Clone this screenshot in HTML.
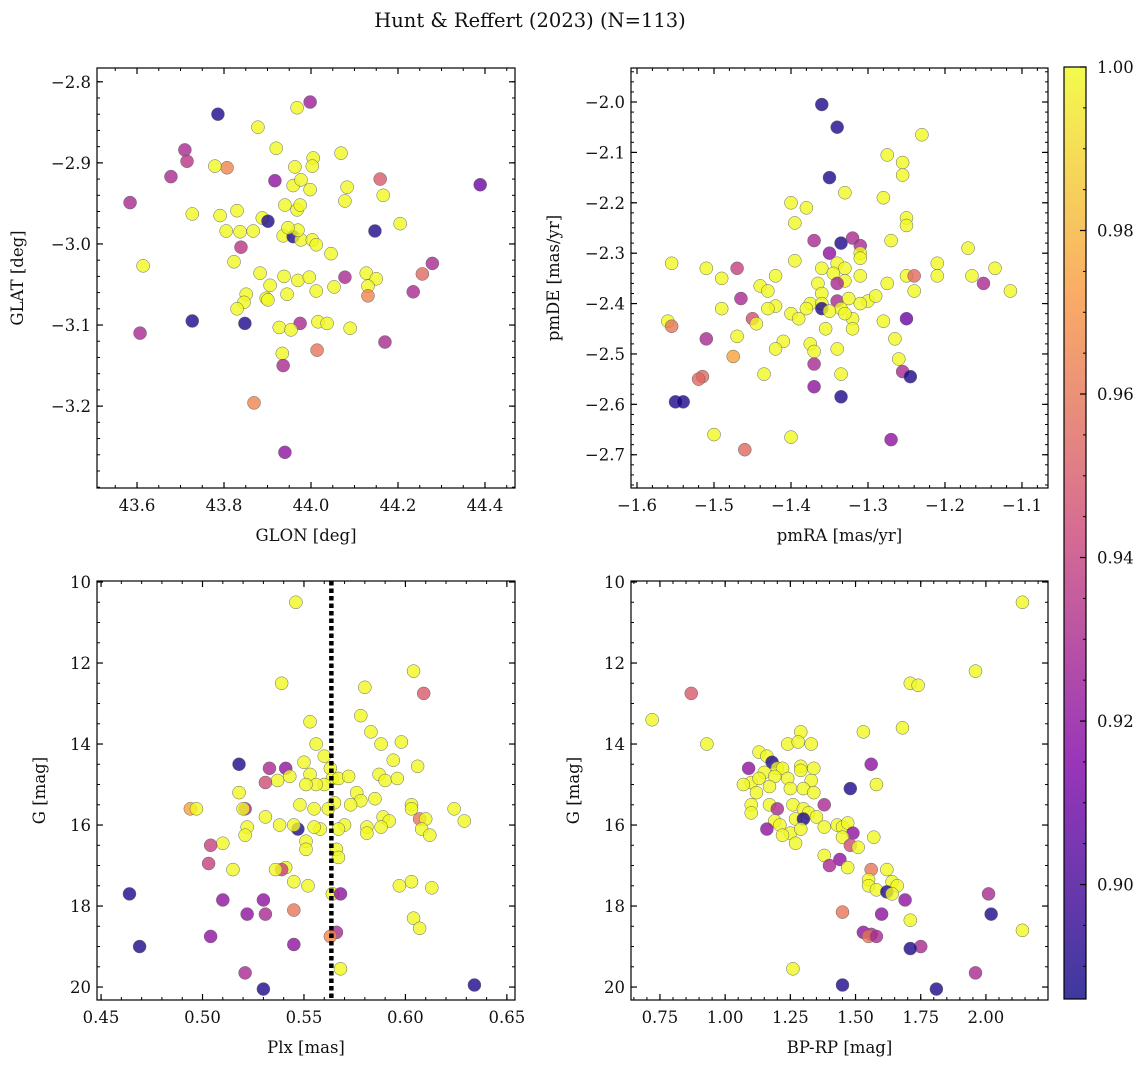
<!DOCTYPE html>
<html><head><meta charset="utf-8"><style>
body{margin:0;background:#fff;}
svg text{font-family:"DejaVu Serif","Liberation Serif",serif;fill:#111;}
</style></head><body>
<svg id="fig" width="1148" height="1067" viewBox="0 0 1148 1067" xmlns="http://www.w3.org/2000/svg">
<defs>
<linearGradient id="plasma" x1="0" y1="1" x2="0" y2="0">
<stop offset="0" stop-color="#0d0887"/><stop offset="0.25" stop-color="#7e03a8"/><stop offset="0.5" stop-color="#cc4778"/><stop offset="0.75" stop-color="#f89540"/><stop offset="1" stop-color="#f0f921"/>
</linearGradient>
</defs>
<text x="530" y="27" font-size="19.5" text-anchor="middle">Hunt &amp; Reffert (2023) (N=113)</text>
</svg>
<script>
// Panel 1: GLON / GLAT / membership probability
const p1Lon=[43.786,43.998,43.968,43.710,43.715,43.807,43.779,43.878,43.920,43.678,43.584,43.917,44.069,44.005,43.963,44.003,44.159,44.389,44.083,44.166,43.959,43.977,43.998,43.791,43.727,43.830,43.888,43.901,43.940,43.968,43.975,44.078,44.205,44.147,43.936,43.959,43.977,44.003,44.012,43.970,43.947,43.805,43.837,43.867,43.614,43.839,44.046,43.823,43.883,43.851,43.846,43.830,43.906,43.897,43.938,43.945,43.901,43.970,43.996,44.012,44.078,44.053,44.127,44.150,44.131,44.131,44.256,44.279,44.235,43.727,43.848,43.975,44.016,44.037,44.090,43.607,43.927,43.954,44.170,44.014,43.934,43.936,43.869,43.940];
const p1Lat=[-2.840,-2.825,-2.832,-2.884,-2.898,-2.906,-2.904,-2.856,-2.882,-2.917,-2.949,-2.922,-2.888,-2.894,-2.905,-2.904,-2.920,-2.927,-2.930,-2.940,-2.928,-2.921,-2.933,-2.965,-2.963,-2.959,-2.968,-2.972,-2.952,-2.958,-2.952,-2.947,-2.975,-2.984,-2.990,-2.991,-2.995,-2.995,-3.001,-2.983,-2.980,-2.984,-2.985,-2.984,-3.027,-3.004,-3.012,-3.022,-3.036,-3.062,-3.072,-3.080,-3.051,-3.067,-3.040,-3.062,-3.069,-3.045,-3.041,-3.058,-3.041,-3.053,-3.036,-3.043,-3.052,-3.064,-3.037,-3.024,-3.059,-3.095,-3.098,-3.098,-3.096,-3.098,-3.104,-3.110,-3.103,-3.106,-3.121,-3.131,-3.135,-3.150,-3.196,-3.257];
const p1Prob=[.89,.925,1,.93,.935,.965,1,1,1,.93,.93,.92,1,1,1,1,.95,.91,1,1,1,1,1,1,1,1,1,.89,1,1,1,1,1,.89,1,.89,1,1,1,1,1,1,1,1,1,.935,1,1,1,1,1,1,1,1,1,1,1,1,1,1,.93,1,1,1,1,.965,.955,.93,.93,.89,.89,.93,1,1,1,.93,1,1,.93,.96,1,.93,.965,.92];
// Panel 2: proper motions
const p2RA=[-1.36,-1.34,-1.35,-1.23,-1.275,-1.255,-1.255,-1.33,-1.28,-1.40,-1.38,-1.25,-1.25,-1.395,-1.32,-1.31,-1.37,-1.335,-1.27,-1.17,-1.21,-1.31,-1.395,-1.35,-1.555,-1.51,-1.47,-1.49,-1.42,-1.36,-1.34,-1.33,-1.345,-1.33,-1.31,-1.31,-1.25,-1.24,-1.165,-1.21,-1.135,-1.44,-1.43,-1.365,-1.34,-1.275,-1.24,-1.15,-1.115,-1.36,-1.375,-1.36,-1.34,-1.325,-1.30,-1.29,-1.31,-1.38,-1.40,-1.465,-1.42,-1.43,-1.49,-1.39,-1.36,-1.335,-1.32,-1.35,-1.33,-1.28,-1.32,-1.355,-1.25,-1.45,-1.445,-1.47,-1.41,-1.42,-1.375,-1.37,-1.34,-1.265,-1.26,-1.475,-1.51,-1.56,-1.555,-1.37,-1.255,-1.245,-1.435,-1.335,-1.515,-1.52,-1.37,-1.335,-1.55,-1.54,-1.50,-1.40,-1.27,-1.46];
const p2DE=[-2.005,-2.05,-2.15,-2.065,-2.105,-2.12,-2.145,-2.18,-2.19,-2.20,-2.21,-2.23,-2.245,-2.24,-2.27,-2.285,-2.275,-2.28,-2.275,-2.29,-2.32,-2.30,-2.315,-2.30,-2.32,-2.33,-2.33,-2.35,-2.345,-2.33,-2.32,-2.33,-2.34,-2.355,-2.31,-2.345,-2.345,-2.345,-2.345,-2.345,-2.33,-2.365,-2.375,-2.36,-2.36,-2.36,-2.375,-2.36,-2.375,-2.38,-2.40,-2.40,-2.395,-2.39,-2.395,-2.385,-2.40,-2.41,-2.42,-2.39,-2.405,-2.41,-2.41,-2.43,-2.41,-2.41,-2.43,-2.415,-2.42,-2.435,-2.45,-2.45,-2.43,-2.43,-2.44,-2.465,-2.475,-2.49,-2.48,-2.495,-2.49,-2.47,-2.51,-2.505,-2.47,-2.435,-2.445,-2.52,-2.535,-2.545,-2.54,-2.54,-2.545,-2.55,-2.565,-2.585,-2.595,-2.595,-2.66,-2.665,-2.67,-2.69];
const p2Prob=[.89,.89,.89,1,1,1,1,1,1,1,1,1,1,1,.93,.93,.93,.89,1,1,1,1,1,.92,1,1,.94,1,1,1,1,1,1,1,1,1,1,.955,1,1,1,1,1,1,.93,1,1,.93,1,1,1,1,.93,1,1,1,1,1,1,.93,1,1,1,1,.89,1,1,1,1,1,1,1,.91,.945,1,1,1,1,1,1,1,1,1,.975,.93,1,.96,.93,.93,.89,1,1,.955,.955,.92,.89,.89,.89,1,1,.92,.955];
// Panel 3: parallax vs G
const p3Plx=[0.546,0.539,0.604,0.609,0.58,0.553,0.583,0.578,0.588,0.598,0.556,0.56,0.563,0.564,0.55,0.541,0.533,0.537,0.518,0.531,0.543,0.553,0.567,0.572,0.587,0.59,0.596,0.594,0.606,0.576,0.578,0.585,0.565,0.56,0.556,0.551,0.548,0.562,0.555,0.518,0.521,0.52,0.494,0.497,0.573,0.589,0.592,0.603,0.603,0.607,0.61,0.608,0.612,0.624,0.629,0.581,0.588,0.581,0.57,0.567,0.558,0.555,0.551,0.547,0.545,0.538,0.531,0.51,0.504,0.522,0.521,0.551,0.566,0.567,0.541,0.539,0.536,0.503,0.515,0.545,0.552,0.564,0.568,0.597,0.603,0.613,0.464,0.51,0.53,0.545,0.522,0.531,0.604,0.607,0.566,0.563,0.504,0.469,0.545,0.568,0.521,0.53,0.634];
const p3G=[10.5,12.5,12.2,12.75,12.6,13.45,13.7,13.3,14.0,13.95,14.0,14.3,14.6,14.85,14.45,14.6,14.6,14.9,14.5,14.95,14.8,14.75,14.85,14.8,14.75,14.9,14.85,14.4,14.55,15.2,15.4,15.35,15.45,15.0,15.0,15.0,15.5,15.6,15.6,15.2,15.6,15.6,15.6,15.6,15.5,15.8,15.9,15.5,15.6,15.85,15.85,16.1,16.25,15.6,15.9,16.05,16.05,16.2,16.0,16.1,16.1,16.05,16.4,16.1,16.0,16.0,15.8,16.45,16.5,16.05,16.25,16.6,16.6,16.8,17.05,17.1,17.1,16.95,17.1,17.4,17.5,17.7,17.7,17.5,17.4,17.55,17.7,17.85,17.85,18.1,18.2,18.2,18.3,18.55,18.65,18.75,18.75,19.0,18.95,19.55,19.65,20.05,19.95];
const p3Prob=[1,1,1,.95,1,1,1,1,1,1,1,1,1,1,1,.92,.93,1,.89,.945,1,1,1,1,1,1,1,1,1,1,1,1,1,1,1,1,1,1,1,1,.93,1,.975,1,1,1,1,1,1,.96,1,1,1,1,1,1,1,1,1,1,1,1,1,.89,1,1,1,1,.94,1,1,1,1,1,1,.94,1,.94,1,1,1,1,.92,1,1,1,.89,.92,.92,.96,.92,.93,1,1,.93,.965,.92,.89,.92,1,.93,.89,.89];
const p3MeanPlx=0.5635;
// Panel 4: colour-magnitude
const p4BPRP=[2.14,1.96,1.71,1.74,0.87,0.72,1.68,1.53,1.29,0.93,1.24,1.28,1.33,1.13,1.16,1.09,1.18,1.2,1.15,1.22,1.29,1.29,1.34,1.56,1.1,1.07,1.13,1.19,1.24,1.33,1.12,1.17,1.25,1.3,1.34,1.48,1.58,1.1,1.17,1.2,1.26,1.3,1.38,1.32,1.27,1.35,1.3,1.1,1.19,1.16,1.21,1.25,1.22,1.29,1.27,1.38,1.43,1.45,1.47,1.49,1.45,1.48,1.57,1.51,1.38,1.44,1.47,1.4,1.56,1.62,1.64,1.66,1.55,1.55,1.58,1.62,1.64,1.69,2.01,1.6,1.45,1.71,2.02,1.53,1.56,1.55,1.58,2.14,1.75,1.71,1.26,1.96,1.45,1.81];
const p4G=[10.5,12.2,12.5,12.55,12.75,13.4,13.6,13.7,13.7,14.0,14.0,13.95,14.0,14.2,14.3,14.6,14.45,14.6,14.7,14.6,14.55,14.65,14.6,14.5,14.95,15.0,14.85,14.8,14.85,14.9,15.2,15.05,15.1,15.1,15.2,15.1,15.0,15.5,15.5,15.6,15.5,15.6,15.5,15.7,15.85,15.8,15.85,15.7,15.9,16.1,16.0,16.2,16.25,16.1,16.45,16.05,16.0,16.05,15.95,16.2,16.3,16.5,16.3,16.55,16.75,16.85,17.05,17.0,17.1,17.1,17.4,17.5,17.35,17.5,17.6,17.65,17.7,17.85,17.7,18.2,18.15,18.35,18.2,18.65,18.7,18.75,18.75,18.6,19.0,19.05,19.55,19.65,19.95,20.05];
const p4Prob=[1,1,1,1,.95,1,1,1,1,1,1,1,1,1,1,.92,.89,1,1,1,1,1,1,.92,1,1,1,1,1,1,1,1,1,1,1,.89,1,1,1,.93,1,1,.93,1,1,1,.89,1,1,.92,1,1,1,1,1,1,1,1,1,.92,1,.945,1,1,1,.92,1,.93,.96,1,1,1,1,1,1,.89,1,.92,.93,.92,.96,1,.89,.92,.93,.96,.93,1,.93,.89,1,.93,.89,.89];
// Tick labels
const p1XTicks=[43.6,43.8,44.0,44.2,44.4];
const p1YTicks=[-2.8,-2.9,-3.0,-3.1,-3.2];
const p2XTicks=[-1.6,-1.5,-1.4,-1.3,-1.2,-1.1];
const p2YTicks=[-2.0,-2.1,-2.2,-2.3,-2.4,-2.5,-2.6,-2.7];
const p3XTicks=[0.45,0.50,0.55,0.60,0.65];
const gTicks=[10,12,14,16,18,20];
const p4XTicks=[0.75,1.00,1.25,1.50,1.75,2.00];
const cbTicks=[0.90,0.92,0.94,0.96,0.98,1.00];
const cbMin=0.886, cbMax=1.0;

const NS='http://www.w3.org/2000/svg';
const svg=document.getElementById('fig');
const FS=16.5;
function mk(tag,attrs,parent){const e=document.createElementNS(NS,tag);for(const k in attrs)e.setAttribute(k,attrs[k]);(parent||svg).appendChild(e);return e;}
function lerp(a,b,t){return a+(b-a)*t;}
const stops=[[13,8,135],[126,3,168],[204,71,120],[248,149,64],[240,249,33]];
function plasma(v){let t=(v-cbMin)/(cbMax-cbMin);t=Math.max(0,Math.min(1,t));const s=t*4,i=Math.min(3,Math.floor(s)),f=s-i;const a=stops[i],b=stops[i+1];return `rgb(${Math.round(lerp(a[0],b[0],f))},${Math.round(lerp(a[1],b[1],f))},${Math.round(lerp(a[2],b[2],f))})`;}

function panel(cfg){
  const g=mk('g',{});
  
  
  const {x0,x1,y0,y1,xmin,xmax,ymin,ymax}=cfg;
  const sx=v=>x0+(v-xmin)/(xmax-xmin)*(x1-x0);
  const sy=v=>y0+(v-ymin)/(ymax-ymin)*(y1-y0);
  const cg=mk('g',{},g);
  for(let i=0;i<cfg.xs.length;i++){
    const c=mk('circle',{cx:sx(cfg.xs[i]),cy:sy(cfg.ys[i]),r:6.5,fill:plasma(cfg.ps[i]),'fill-opacity':0.8,stroke:'#666','stroke-width':0.5},cg);
    
    
  }
  if(cfg.vline!==undefined){
    const l=mk('line',{x1:sx(cfg.vline),x2:sx(cfg.vline),y1:y0,y2:y1,stroke:'#000','stroke-width':4.5,'stroke-dasharray':'4.5,3'},g);
    
    
  }
  const fr=mk('rect',{x:x0,y:y0,width:x1-x0,height:y1-y0,fill:'none',stroke:'#000','stroke-width':1.2},g);
  
  
  const eps=1e-9;
  const lo=Math.min(xmin,xmax),hi=Math.max(xmin,xmax);
  for(let v=Math.ceil(lo/cfg.xminor-eps)*cfg.xminor;v<=hi+eps;v+=cfg.xminor){const X=sx(v);mk('line',{x1:X,x2:X,y1:y1,y2:y1-3,stroke:'#000'},g);mk('line',{x1:X,x2:X,y1:y0,y2:y0+3,stroke:'#000'},g);}
  const ylo=Math.min(ymin,ymax),yhi=Math.max(ymin,ymax);
  for(let v=Math.ceil(ylo/cfg.yminor-eps)*cfg.yminor;v<=yhi+eps;v+=cfg.yminor){const Y=sy(v);mk('line',{x1:x0,x2:x0+3,y1:Y,y2:Y,stroke:'#000'},g);mk('line',{x1:x1,x2:x1-3,y1:Y,y2:Y,stroke:'#000'},g);}
  cfg.xt.forEach(v=>{const X=sx(v);mk('line',{x1:X,x2:X,y1:y1,y2:y1-6,stroke:'#000','stroke-width':1.2},g);mk('line',{x1:X,x2:X,y1:y0,y2:y0+6,stroke:'#000','stroke-width':1.2},g);
    const t=mk('text',{x:X,y:y1+23,'font-size':FS,'text-anchor':'middle'},g);t.textContent=v.toFixed(cfg.xdec).replace('-','\u2212');
    
    });
  cfg.yt.forEach(v=>{const Y=sy(v);mk('line',{x1:x0,x2:x0+6,y1:Y,y2:Y,stroke:'#000','stroke-width':1.2},g);mk('line',{x1:x1,x2:x1-6,y1:Y,y2:Y,stroke:'#000','stroke-width':1.2},g);
    const t=mk('text',{x:x0-6,y:Y+6,'font-size':FS,'text-anchor':'end'},g);t.textContent=v.toFixed(cfg.ydec).replace('-','\u2212');
    
    });
  const xl=mk('text',{x:(x0+x1)/2,y:y1+53,'font-size':FS,'text-anchor':'middle'},g);xl.textContent=cfg.xlabel;
  
  
  const yx=x0-cfg.ylOff,yy=(y0+y1)/2;
  const yl=mk('text',{x:yx,y:yy,'font-size':FS,'text-anchor':'middle',transform:`rotate(-90 ${yx} ${yy})`},g);yl.textContent=cfg.ylabel;
  
  
}

panel({name:'panel-glon-glat',x0:97,x1:515,y0:68,y1:488,xmin:43.508,xmax:44.469,ymin:-2.783,ymax:-3.301,xs:p1Lon,ys:p1Lat,ps:p1Prob,xt:p1XTicks,yt:p1YTicks,xdec:1,ydec:1,xminor:0.05,yminor:0.02,xlabel:'GLON [deg]',ylabel:'GLAT [deg]',ylOff:74});
panel({name:'panel-proper-motion',x0:631,x1:1048,y0:68,y1:488,xmin:-1.6078,xmax:-1.0662,ymin:-1.9325,ymax:-2.766,xs:p2RA,ys:p2DE,ps:p2Prob,xt:p2XTicks,yt:p2YTicks,xdec:1,ydec:1,xminor:0.02,yminor:0.02,xlabel:'pmRA [mas/yr]',ylabel:'pmDE [mas/yr]',ylOff:72});
panel({name:'panel-parallax-g',x0:97,x1:515,y0:581,y1:1000,xmin:0.448,xmax:0.654,ymin:9.975,ymax:20.32,xs:p3Plx,ys:p3G,ps:p3Prob,xt:p3XTicks,yt:gTicks,xdec:2,ydec:0,xminor:0.01,yminor:0.5,xlabel:'Plx [mas]',ylabel:'G [mag]',ylOff:52,vline:p3MeanPlx});
panel({name:'panel-cmd',x0:631,x1:1048,y0:581,y1:1000,xmin:0.639,xmax:2.238,ymin:9.975,ymax:20.32,xs:p4BPRP,ys:p4G,ps:p4Prob,xt:p4XTicks,yt:gTicks,xdec:2,ydec:0,xminor:0.05,yminor:0.5,xlabel:'BP-RP [mag]',ylabel:'G [mag]',ylOff:52});

const cb=mk('g',{});


const cbx0=1064,cbx1=1086,cby0=67,cby1=999;
mk('rect',{x:cbx0,y:cby0,width:cbx1-cbx0,height:cby1-cby0,fill:'url(#plasma)','fill-opacity':0.8},cb);
mk('rect',{x:cbx0,y:cby0,width:cbx1-cbx0,height:cby1-cby0,fill:'none',stroke:'#000','stroke-width':1.2},cb);
const cy=v=>cby1-(v-cbMin)/(cbMax-cbMin)*(cby1-cby0);
for(let v=0.89;v<=1.0001;v+=0.005){const Y=cy(v);mk('line',{x1:cbx1,x2:cbx1-3,y1:Y,y2:Y,stroke:'#000'},cb);}
cbTicks.forEach(v=>{const Y=cy(v);mk('line',{x1:cbx1,x2:cbx1-6,y1:Y,y2:Y,stroke:'#000','stroke-width':1.2},cb);
  const t=mk('text',{x:cbx1+11,y:Y+6,'font-size':FS},cb);t.textContent=v.toFixed(2);
  
  });
</script>
</body></html>
